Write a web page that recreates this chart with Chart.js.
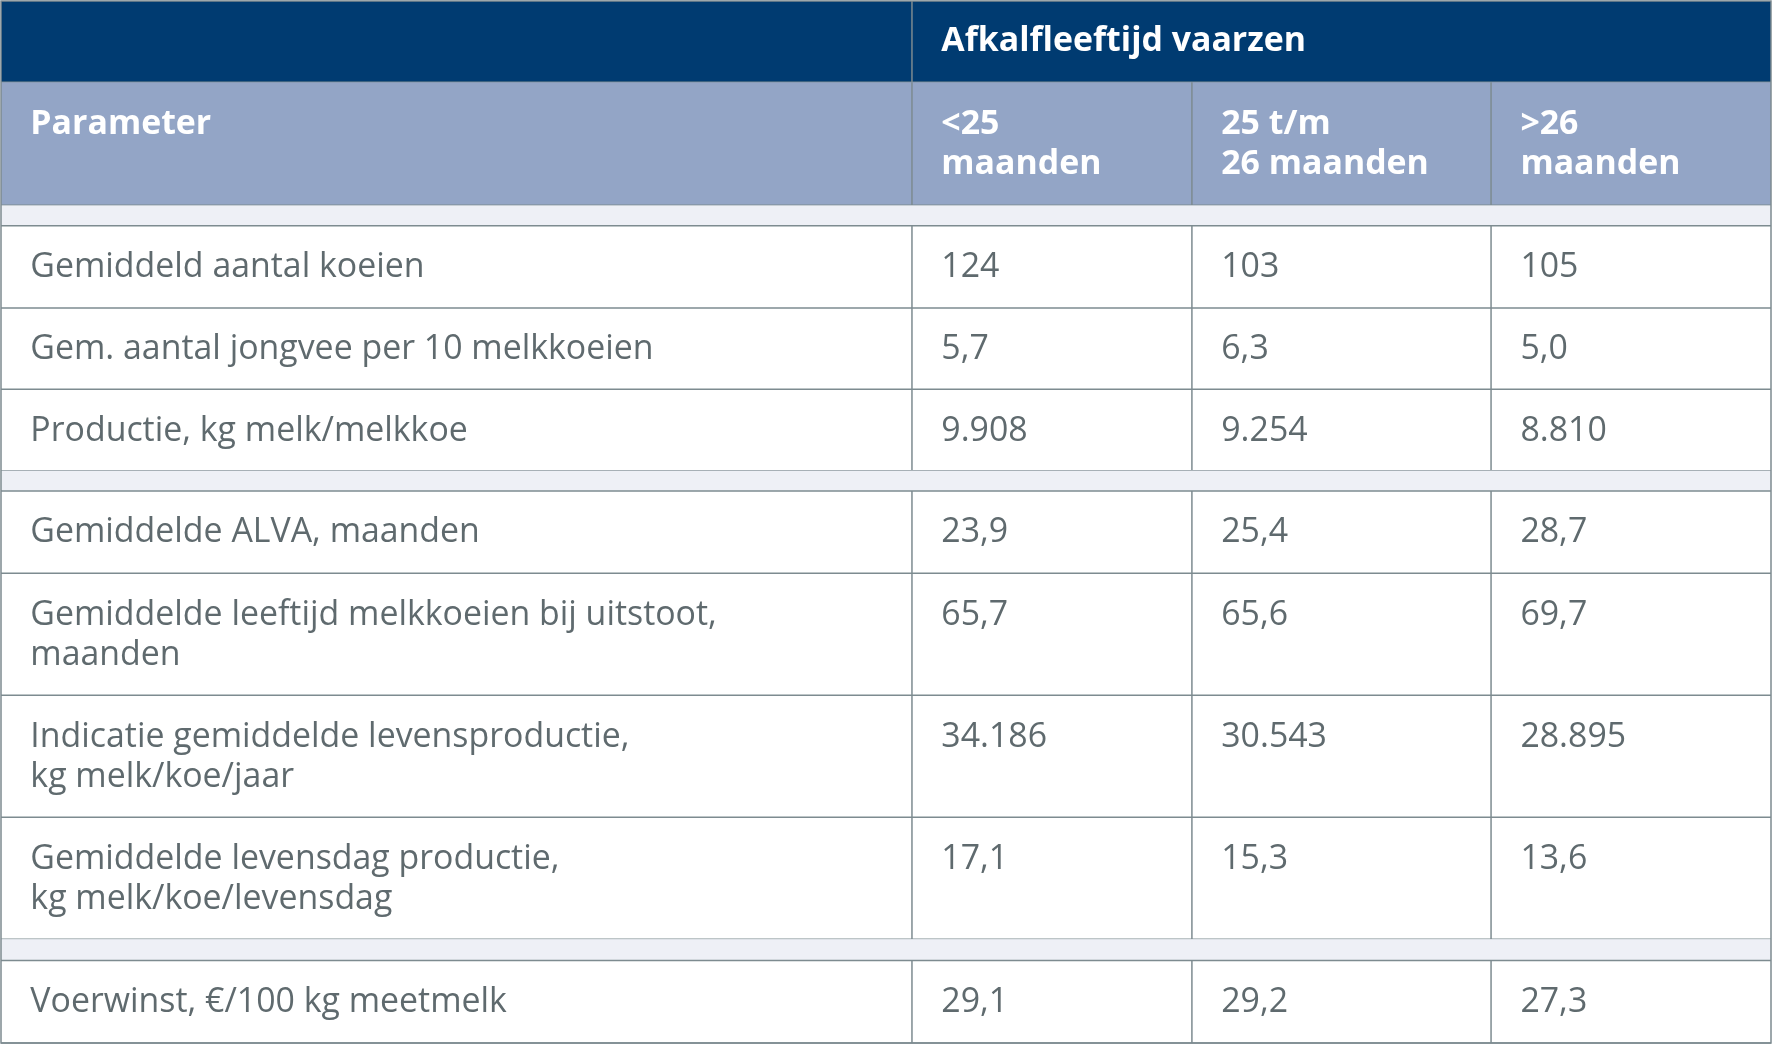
<!DOCTYPE html>
<html><head><meta charset="utf-8">
<script src="https://cdn.jsdelivr.net/npm/chart.js@4"></script>
<style>html,body{margin:0;padding:0;background:#fff}#w{width:1772px;height:1044px}</style>
</head><body><div id="w"><canvas id="c"></canvas></div>
<script>
const topHeader = "Afkalfleeftijd vaarzen";
const headers = ["Parameter", "<25\nmaanden", "25 t/m\n26 maanden", ">26\nmaanden"];
const parameters = [
  "Gemiddeld aantal koeien",
  "Gem. aantal jongvee per 10 melkkoeien",
  "Productie, kg melk/melkkoe",
  "Gemiddelde ALVA, maanden",
  "Gemiddelde leeftijd melkkoeien bij uitstoot,\nmaanden",
  "Indicatie gemiddelde levensproductie,\nkg melk/koe/jaar",
  "Gemiddelde levensdag productie,\nkg melk/koe/levensdag",
  "Voerwinst, €/100 kg meetmelk"
];
const under25 = ["124","5,7","9.908","23,9","65,7","34.186","17,1","29,1"];
const mid2526 = ["103","6,3","9.254","25,4","65,6","30.543","15,3","29,2"];
const over26 = ["105","5,0","8.810","28,7","69,7","28.895","13,6","27,3"];

// layout (table units)
const colEdges = [0, 807, 1055, 1320, 1568];
const rowBlocks = [ // [top, bottom, kind, dataIndex]
  [0,72,'top'],[72,181,'head'],[181,199,'gap'],
  [199,272,'row',0],[272,344,'row',1],[344,416,'row',2],[416,434,'gap'],
  [434,507,'row',3],[507,615,'row',4],[615,723,'row',5],[723,831,'row',6],[831,850,'gap'],
  [850,923,'row',7]
];

const tablePlugin = {
  id:'table',
  afterDraw(chart){
    const ctx = chart.ctx, xs = chart.scales.x, ys = chart.scales.y;
    const X = v=>xs.getPixelForValue(v), Y = v=>ys.getPixelForValue(v);
    const k = (X(1568)-X(0))/1568;
    const cols = [parameters, under25, mid2526, over26];
    ctx.save();
    const border = '#7d8b90';
    for (const [t,b,kind,i] of rowBlocks){
      if(kind==='top'){
        ctx.fillStyle='#003b71'; ctx.fillRect(X(0),Y(t),X(1568)-X(0),Y(b)-Y(t));
        ctx.fillStyle='#fff'; ctx.font=`bold ${30*k}px "Open Sans"`; ctx.textBaseline='middle';
        ctx.fillText(topHeader, X(colEdges[1]+26), Y(36));
        ctx.strokeStyle=border; ctx.lineWidth=1.5;
        ctx.beginPath(); ctx.moveTo(X(807),Y(t)); ctx.lineTo(X(807),Y(b)); ctx.stroke();
      } else if(kind==='head'){
        ctx.fillStyle='#93a5c6'; ctx.fillRect(X(0),Y(t),X(1568)-X(0),Y(b)-Y(t));
        ctx.fillStyle='#fff'; ctx.font=`bold ${30*k}px "Open Sans"`; ctx.textBaseline='middle';
        headers.forEach((h,c)=>h.split('\n').forEach((ln,j)=>ctx.fillText(ln,X(colEdges[c]+26),Y(t+37+j*36))));
        ctx.strokeStyle=border; ctx.lineWidth=1.5;
        for(let c=1;c<4;c++){ctx.beginPath();ctx.moveTo(X(colEdges[c]),Y(t));ctx.lineTo(X(colEdges[c]),Y(b));ctx.stroke();}
      } else if(kind==='gap'){
        ctx.fillStyle='#eef0f6'; ctx.fillRect(X(0),Y(t),X(1568)-X(0),Y(b)-Y(t));
      } else {
        ctx.fillStyle='#5f6a6e'; ctx.font=`${30*k}px "Open Sans"`; ctx.textBaseline='middle';
        cols.forEach((arr,c)=>arr[i].split('\n').forEach((ln,j)=>ctx.fillText(ln,X(colEdges[c]+26),Y(t+37+j*36))));
        ctx.strokeStyle=border; ctx.lineWidth=1.5;
        for(let c=1;c<4;c++){ctx.beginPath();ctx.moveTo(X(colEdges[c]),Y(t));ctx.lineTo(X(colEdges[c]),Y(b));ctx.stroke();}
      }
      ctx.strokeStyle=border; ctx.lineWidth=1.5;
      ctx.beginPath(); ctx.moveTo(X(0),Y(b)); ctx.lineTo(X(1568),Y(b)); ctx.stroke();
    }
    ctx.strokeRect(X(0),Y(0),X(1568)-X(0),Y(923)-Y(0));
    ctx.restore();
  }
};

new Chart(document.getElementById('c'),{
  type:'scatter',
  data:{datasets:[{data:[]}]},
  options:{responsive:true,maintainAspectRatio:false,animation:false,
    layout:{padding:1},
    plugins:{legend:{display:false},tooltip:{enabled:false}},
    scales:{x:{type:'linear',min:0,max:1568,display:false},
            y:{type:'linear',min:0,max:923,reverse:true,display:false}}},
  plugins:[tablePlugin]
});
</script></body></html>
